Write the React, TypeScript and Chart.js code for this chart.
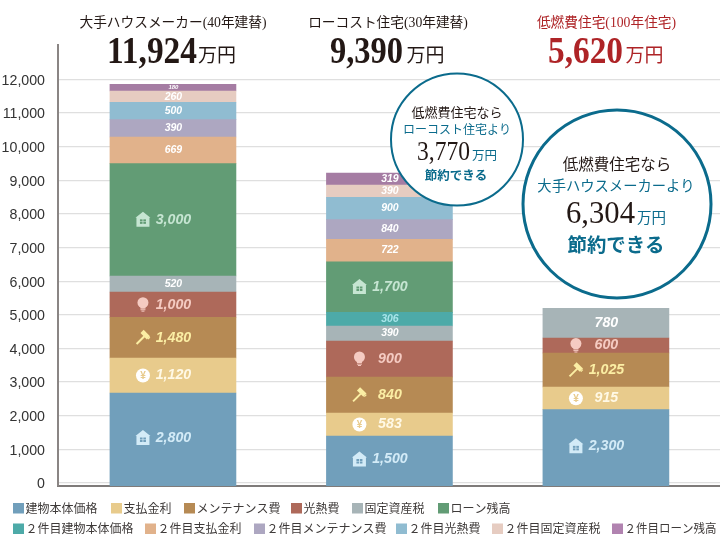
import React, { useEffect, useRef } from "react";
import { Chart, registerables } from "chart.js";

Chart.register(...registerables);

// Scenario names and printed totals
const categories = ["大手ハウスメーカー(40年建替)", "ローコスト住宅(30年建替)", "低燃費住宅(100年住宅)"];
const totals = ["11,924", "9,390", "5,620"];
const yTicks = [0, 1000, 2000, 3000, 4000, 5000, 6000, 7000, 8000, 9000, 10000, 11000, 12000];

// Segment heights. The reference's segments are not
// proportional to their printed figures, so the printed figures are kept apart.
const building = [2675, 1397, 2179];
const interest = [1041, 684, 675];
const maintenance = [1210, 1070, 1010];
const utilities = [752, 1070, 446];
const propertyTax = [475, 446, 883];
const building2 = [null, 407, null];
const loan = [3339, 1504, null];
const interest2 = [793, 666, null];
const maintenance2 = [515, 583, null];
const utilities2 = [517, 666, null];
const propertyTax2 = [336, 366, null];
const loan2 = [199, 356, null];

// Figures printed on the segments
const buildingText = ["2,800", "1,500", "2,300"];
const interestText = ["1,120", "583", "915"];
const maintenanceText = ["1,480", "840", "1,025"];
const utilitiesText = ["1,000", "900", "600"];
const propertyTaxText = ["520", "390", "780"];
const building2Text = ["", "306", ""];
const loanText = ["3,000", "1,700", ""];
const interest2Text = ["669", "722", ""];
const maintenance2Text = ["390", "840", ""];
const utilities2Text = ["500", "900", ""];
const propertyTax2Text = ["260", "390", ""];
const loan2Text = ["180", "319", ""];

// Listed in stacking order, bottom to top
const seriesNames = [
  "建物本体価格", "支払金利", "メンテナンス費", "光熱費", "固定資産税", "２件目建物本体価格", "ローン残高",
  "２件目支払金利", "２件目メンテナンス費", "２件目光熱費", "２件目固定資産税", "２件目ローン残高",
];
const seriesValues = [building, interest, maintenance, utilities, propertyTax, building2, loan, interest2, maintenance2, utilities2, propertyTax2, loan2];
const seriesText = [buildingText, interestText, maintenanceText, utilitiesText, propertyTaxText, building2Text, loanText, interest2Text, maintenance2Text, utilities2Text, propertyTax2Text, loan2Text];

// Styles, same order as the series
const colors = ["#719fbb", "#e8cb8c", "#b68a54", "#ae695a", "#a7b4b7", "#4daaa8", "#629c75", "#e1b28b", "#ada7c1", "#90bcd1", "#e6ccc1", "#a57ca3"];
const legendColors = ["#719fbb", "#e8cb8c", "#b68a54", "#ae695a", "#a7b4b7", "#4daaa8", "#629c75", "#e1b28b", "#ada7c1", "#90bcd1", "#e6ccc1", "#b183b0"];
const textColors = ["#d3ebf7", "#fff9e6", "#fbeea4", "#f5cbc2", "#ffffff", "#a9e5ea", "#c6e5d2", "#ffffff", "#ffffff", "#ffffff", "#ffffff", "#ffffff"];
const icons = ["house", "yen", "hammer", "bulb", "", "", "house", "", "", "", "", ""];
const legendX = [13, 111, 184, 291, 352, 13, 438, 145, 254, 396, 492, 612];
const legendY = [508, 508, 508, 508, 508, 528.5, 508, 528.5, 528.5, 528.5, 528.5, 528.5];

const SANS = '"Liberation Sans", Arial, sans-serif';
const JP = '"Noto Sans CJK JP", sans-serif';
const SERIF = '"Liberation Serif", "Noto Sans CJK JP", serif';
const INK = "#231815";
const RED = "#ae2427";
const TEAL = "#0b6b8c";

function text(ctx, s, x, y, font, color, align = "center", maxW?) {
  ctx.font = font;
  ctx.fillStyle = color;
  ctx.textAlign = align;
  ctx.textBaseline = "alphabetic";
  if (maxW) ctx.fillText(s, x, y, maxW);
  else ctx.fillText(s, x, y);
}

function drawIcon(ctx, kind, cx, cy, fg, bg) {
  ctx.save();
  ctx.fillStyle = fg;
  ctx.strokeStyle = fg;
  if (kind === "house") {
    ctx.beginPath();
    ctx.moveTo(cx, cy - 8);
    ctx.lineTo(cx + 7.5, cy - 2);
    ctx.lineTo(cx + 6.5, cy - 2);
    ctx.lineTo(cx + 6.5, cy + 7);
    ctx.lineTo(cx - 6.5, cy + 7);
    ctx.lineTo(cx - 6.5, cy - 2);
    ctx.lineTo(cx - 7.5, cy - 2);
    ctx.closePath();
    ctx.fill();
    ctx.fillStyle = bg;
    ctx.fillRect(cx - 3, cy - 0.5, 2.6, 2);
    ctx.fillRect(cx + 0.4, cy - 0.5, 2.6, 2);
    ctx.fillRect(cx - 3, cy + 2, 2.6, 2);
    ctx.fillRect(cx + 0.4, cy + 2, 2.6, 2);
  } else if (kind === "yen") {
    ctx.fillStyle = "#ffffff";
    ctx.beginPath();
    ctx.arc(cx, cy, 7, 0, Math.PI * 2);
    ctx.fill();
    ctx.font = `bold 10px ${SANS}`;
    ctx.fillStyle = bg;
    ctx.textAlign = "center";
    ctx.textBaseline = "middle";
    ctx.fillText("¥", cx, cy + 0.5);
  } else if (kind === "hammer") {
    ctx.translate(cx, cy);
    ctx.rotate(Math.PI / 4);
    ctx.fillRect(-1, -2, 2, 11);
    ctx.fillRect(-5, -6, 9, 4.5);
    ctx.fillRect(4, -5.2, 1.2, 2.8);
  } else if (kind === "bulb") {
    ctx.beginPath();
    ctx.arc(cx, cy - 2, 5.5, 0, Math.PI * 2);
    ctx.fill();
    ctx.fillRect(cx - 2.5, cy + 1, 5, 3);
    ctx.fillRect(cx - 2.5, cy + 4.6, 5, 1);
    ctx.fillRect(cx - 1.5, cy + 6, 3, 1);
  }
  ctx.restore();
}

const segmentLabels = {
  id: "segmentLabels",
  afterDatasetsDraw(chart) {
    const ctx = chart.ctx;
    seriesText.forEach((labels, s) => {
      const meta = chart.getDatasetMeta(s);
      labels.forEach((label, b) => {
        const el = meta.data[b];
        if (!label || !el) return;
        const cy = (el.y + el.base) / 2 - (s === 0 ? 1.5 : 0);
        const isBig = icons[s] !== "" || b === 2;
        const size = label === "180" ? 6 : isBig ? 14.2 : 10.5;
        ctx.save();
        ctx.font = `italic bold ${size}px ${SANS}`;
        ctx.fillStyle = textColors[s];
        ctx.textAlign = "center";
        ctx.textBaseline = "middle";
        ctx.fillText(label, el.x + 0.5, cy);
        ctx.restore();
        if (icons[s]) drawIcon(ctx, icons[s], el.x - 30, cy, textColors[s], colors[s]);
      });
    });
  },
};

const annotations = {
  id: "annotations",
  afterDraw(chart) {
    const ctx = chart.ctx;
    ctx.save();
    // Column headers
    const headX = [173, 388, 606.5];
    const numX = [107, 330, 548];
    const numW = [90, 73, 75];
    const unitX = [198, 406.5, 625.5];
    categories.forEach((c, i) => {
      const col = i === 2 ? RED : INK;
      text(ctx, c, headX[i], 27, `13.7px ${SERIF}`, col);
      text(ctx, totals[i], numX[i], 63, `bold 37px ${SERIF}`, col, "left", numW[i]);
      text(ctx, "万円", unitX[i], 62, `19px ${JP}`, col, "left");
    });
    // Circles
    const circle = (x, y, r, w) => {
      ctx.beginPath();
      ctx.arc(x, y, r, 0, Math.PI * 2);
      ctx.fillStyle = "#ffffff";
      ctx.fill();
      ctx.lineWidth = w;
      ctx.strokeStyle = TEAL;
      ctx.stroke();
    };
    circle(457, 139.5, 66, 2);
    text(ctx, "低燃費住宅なら", 457, 117, `13px ${JP}`, INK);
    text(ctx, "ローコスト住宅より", 457, 133.5, `12px ${JP}`, TEAL);
    text(ctx, "3,770", 417, 160, `28px ${SERIF}`, INK, "left", 53);
    text(ctx, "万円", 472, 160, `12.5px ${JP}`, TEAL, "left");
    text(ctx, "節約できる", 456, 180, `bold 12.5px ${JP}`, TEAL);

    circle(617, 204, 94, 3);
    text(ctx, "低燃費住宅なら", 617, 170, `15.5px ${JP}`, INK);
    text(ctx, "大手ハウスメーカーより", 616, 191, `14.3px ${JP}`, TEAL);
    text(ctx, "6,304", 566, 223, `31px ${SERIF}`, INK, "left", 69);
    text(ctx, "万円", 637, 223, `14.5px ${JP}`, TEAL, "left");
    text(ctx, "節約できる", 616, 252, `bold 19.4px ${JP}`, TEAL);

    // Legend
    chart.data.datasets.forEach((d, i) => {
      const cy = legendY[i];
      ctx.fillStyle = legendColors[i];
      ctx.fillRect(legendX[i], cy - 5, 11, 10.5);
      text(ctx, d.label, legendX[i] + 12.5, cy + 4.5, `12px ${JP}`, "#3e3a39", "left", i === 11 ? 92 : undefined);
    });
    ctx.restore();
  },
};

export default function App() {
  const ref = useRef<HTMLCanvasElement>(null);
  useEffect(() => {
    const chart = new Chart(ref.current, {
      type: "bar",
      data: {
        datasets: seriesNames.map((name, i) => ({
          label: name,
          data: seriesValues[i].map((v, b) => ({ x: b, y: v })),
          backgroundColor: colors[i],
          borderWidth: 0,
          barThickness: 126,
          ...(i === 0 ? { base: -89 } : {}),
        })),
      },
      plugins: [segmentLabels, annotations],
      options: {
        responsive: false,
        animation: false,
        devicePixelRatio: 1,
        layout: { padding: { left: 0, top: 45, right: 0, bottom: 68 } },
        plugins: { legend: { display: false }, tooltip: { enabled: false }, title: { display: false } },
        scales: {
          x: {
            type: "linear",
            stacked: true,
            offset: false,
            min: -0.531,
            max: 2.527,
            afterFit: (s) => { s.height = 0; },
            ticks: { display: false },
            grid: { display: false },
            border: { display: true, color: "#7f7b7a", width: 2 },
          },
          y: {
            stacked: true,
            min: -89,
            max: 13020,
            afterFit: (s) => { s.width = 58; },
            afterBuildTicks: (s) => { s.ticks = yTicks.map((value) => ({ value })); },
            ticks: {
              padding: 13,
              labelOffset: 1.5,
              color: "#333333",
              font: { family: SANS, size: 14.2 },
              callback: (v) => Number(v).toLocaleString("en-US"),
            },
            grid: { color: "#dfdfdf", lineWidth: 1.2, drawTicks: false },
            border: { display: true, color: "#8a8584", width: 2 },
          },
        },
      },
    });
    return () => chart.destroy();
  }, []);
  return (
    <div style={{ position: "absolute", left: 0, top: 0, width: 720, height: 554, background: "#fff" }}>
      <canvas ref={ref} width={720} height={554} style={{ display: "block" }} />
    </div>
  );
}
